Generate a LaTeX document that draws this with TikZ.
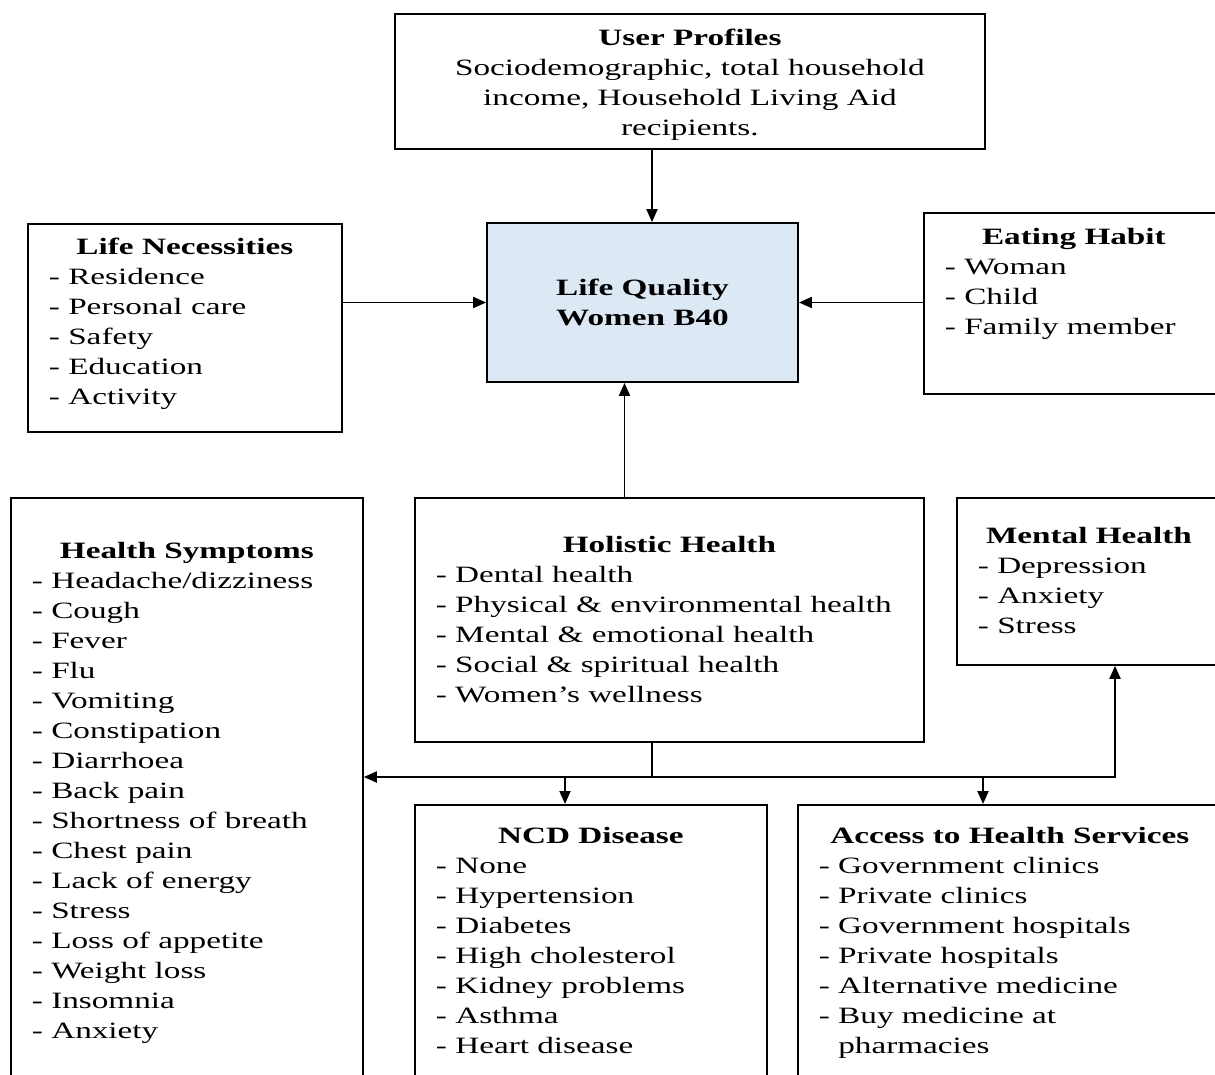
\documentclass[tikz,border=0pt]{standalone}
\usepackage{fontspec}
\setmainfont{Liberation Serif}[FakeStretch=1.42]
\usetikzlibrary{arrows.meta}
\definecolor{lqblue}{RGB}{221,232,245}
\begin{document}
\begin{tikzpicture}[x=1pt,y=-1pt,font=\fontsize{23.4}{30}\selectfont,
  >={Triangle[length=13pt,width=11pt]},
  blk/.style={draw,line width=1.8pt,anchor=north west,inner xsep=21pt,inner ysep=0pt},
  link/.style={line width=1.9pt}]
\clip (0,0) rectangle (1215,1075);
\path (394,13) node(up) [blk] {\parbox[t][135pt][t]{548pt}{\vspace*{10.8pt}\centering\strut\textbf{User Profiles}\\ Sociodemographic, total household\\ income, Household Living Aid\\ recipients.}};
\path (27,223) node(ln) [blk] {\parbox[t][208pt][t]{272pt}{\vspace*{9.8pt}\centerline{\strut\textbf{Life Necessities}}\strut- Residence\\ - Personal care\\ - Safety\\ - Education\\ - Activity}};
\path (642.5,302.5) node(lq) [draw,line width=1.8pt,fill=lqblue,minimum width=311pt,minimum height=159pt,align=center,font=\fontsize{23.4}{30}\selectfont\bfseries] {Life Quality\\Women B40};
\path (923,212) node(eh) [blk] {\parbox[t][181pt][t]{258pt}{\vspace*{10.8pt}\centerline{\strut\textbf{Eating Habit}}\strut- Woman\\ - Child\\ - Family member}};
\path (10,497) node(hs) [blk] {\parbox[t][600pt][t]{310pt}{\vspace*{39.8pt}\centerline{\strut\textbf{Health Symptoms}}\strut- Headache/dizziness\\ - Cough\\ - Fever\\ - Flu\\ - Vomiting\\ - Constipation\\ - Diarrhoea\\ - Back pain\\ - Shortness of breath\\ - Chest pain\\ - Lack of energy\\ - Stress\\ - Loss of appetite\\ - Weight loss\\ - Insomnia\\ - Anxiety}};
\path (414,497) node(hh) [blk] {\parbox[t][244pt][t]{467pt}{\vspace*{33.8pt}\centerline{\strut\textbf{Holistic Health}}\strut- Dental health\\ - Physical \& environmental health\\ - Mental \& emotional health\\ - Social \& spiritual health\\ - Women’s wellness}};
\path (956,497) node(mh) [blk] {\parbox[t][167pt][t]{222pt}{\vspace*{24.8pt}\centerline{\strut\textbf{Mental Health}}\strut- Depression\\ - Anxiety\\ - Stress}};
\path (414,804) node(ncd) [blk] {\parbox[t][290pt][t]{310pt}{\vspace*{17.8pt}\centerline{\strut\textbf{NCD Disease}}\strut- None\\ - Hypertension\\ - Diabetes\\ - High cholesterol\\ - Kidney problems\\ - Asthma\\ - Heart disease}};
\path (797,804) node(ahs) [blk] {\parbox[t][290pt][t]{382pt}{\vspace*{17.8pt}\centerline{\strut\textbf{Access to Health Services}}\strut- Government clinics\\ - Private clinics\\ - Government hospitals\\ - Private hospitals\\ - Alternative medicine\\ - Buy medicine at\\ \hphantom{- }pharmacies}};
% links into the centre box
\draw[link,->] ([xshift=9.5pt]lq.north |- up.south) -- ([xshift=9.5pt]lq.north);
\draw[link,->] (ln.east |- lq.west) -- (lq.west);
\draw[link,->] (eh.west |- lq.east) -- (lq.east);
\draw[link,->] ([xshift=-18pt]lq.south |- hh.north) -- ([xshift=-18pt]lq.south);
% bus under holistic health
\coordinate (bus) at (652,777);
\coordinate (ncdtap) at (565,777);
\coordinate (ahstap) at (983,777);
\coordinate (mhtap) at (1115,777);
\draw[link] (bus |- hh.south) -- (bus);
\draw[link,<->] (hs.east |- bus) -- (mhtap) -- (mhtap |- mh.south);
\draw[link,->] (ncdtap) -- (ncdtap |- ncd.north);
\draw[link,->] (ahstap) -- (ahstap |- ahs.north);
\end{tikzpicture}
\end{document}
